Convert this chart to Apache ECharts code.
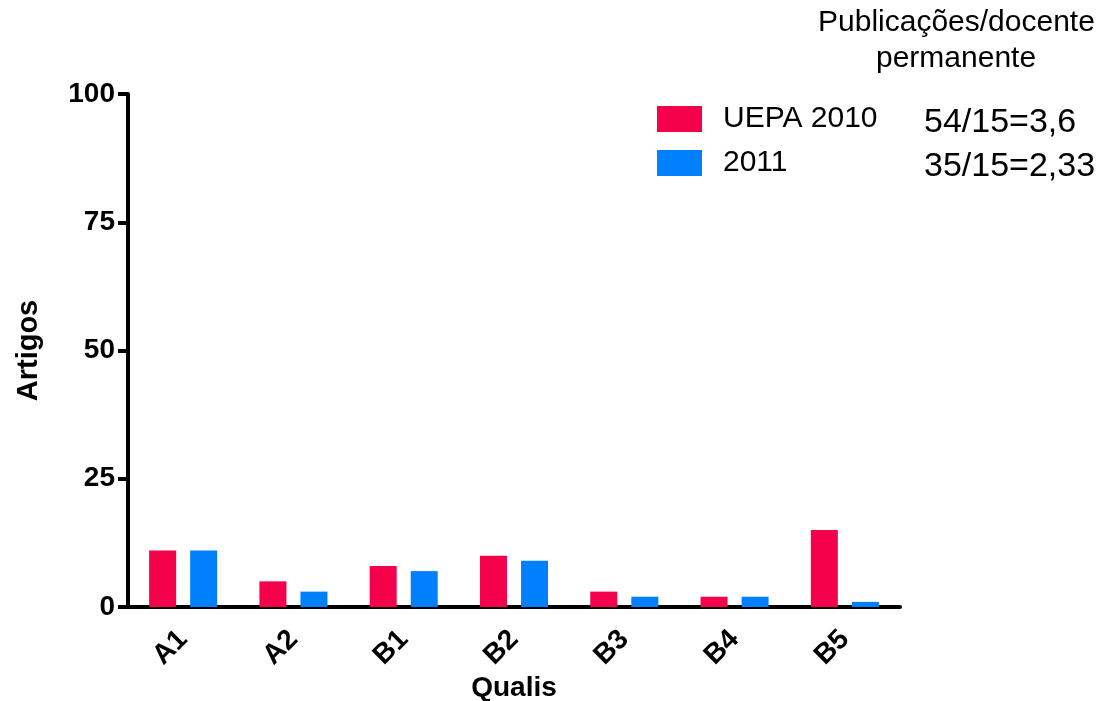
<!DOCTYPE html>
<html>
<head>
<meta charset="utf-8">
<script src="https://cdn.jsdelivr.net/npm/echarts@6/dist/echarts.min.js"></script>
<style>
  html, body { margin: 0; padding: 0; background: #fff; }
  #chart { width: 1113px; height: 701px; }
</style>
</head>
<body>
<div id="chart"></div>
<script>
// Qualis categories and article counts
const categories = ['A1', 'A2', 'B1', 'B2', 'B3', 'B4', 'B5'];
const uepa2010 = [11, 5, 8, 10, 3, 2, 15];
const uepa2011 = [11, 3, 7, 9, 2, 2, 1];
const yTicks = [0, 25, 50, 75, 100];
const ratioLines = ['54/15=3,6', '35/15=2,33'];

const FONT = 'Arial, "Liberation Sans", sans-serif';
const RED = '#F5004A';
const BLUE = '#0080FF';

const chart = echarts.init(document.getElementById('chart'));
chart.setOption({
  animation: false,
  textStyle: { fontFamily: FONT },
  grid: { left: 128, right: 213, top: 94, bottom: 94, outerBoundsMode: 'none' },
  legend: {
    orient: 'vertical',
    left: 652,
    top: 99,
    itemWidth: 45,
    itemHeight: 26,
    itemGap: 14,
    icon: 'rect',
    textStyle: { fontSize: 30, color: '#000', fontFamily: FONT, padding: [0, 0, 0, 16] },
    data: ['UEPA 2010', '2011']
  },
  xAxis: {
    type: 'category',
    data: categories,
    name: 'Qualis',
    nameLocation: 'middle',
    nameGap: 67,
    nameMoveOverlap: false,
    nameTextStyle: { fontSize: 28, fontWeight: 'bold', color: '#000', fontFamily: FONT },
    axisLine: { lineStyle: { color: '#000', width: 4 } },
    axisTick: { alignWithLabel: true, length: 10, lineStyle: { width: 4, color: '#000' } },
    axisLabel: { rotate: 45, fontSize: 28, fontWeight: 'bold', color: '#000', margin: 28, fontFamily: FONT }
  },
  yAxis: {
    type: 'value',
    min: yTicks[0],
    max: yTicks[yTicks.length - 1],
    interval: 25,
    name: 'Artigos',
    nameLocation: 'middle',
    nameGap: 85,
    nameMoveOverlap: false,
    nameTextStyle: { fontSize: 29, fontWeight: 'bold', color: '#000', fontFamily: FONT },
    axisLine: { show: true, lineStyle: { color: '#000', width: 4 } },
    axisTick: { show: true, length: 10, lineStyle: { width: 4, color: '#000' } },
    splitLine: { show: false },
    axisLabel: { fontSize: 28, fontWeight: 'bold', color: '#000', margin: 13, fontFamily: FONT }
  },
  series: [
    {
      name: 'UEPA 2010',
      type: 'bar',
      barWidth: 27,
      barGap: '52%',
      itemStyle: { color: RED },
      data: uepa2010
    },
    {
      name: '2011',
      type: 'bar',
      barWidth: 27,
      barGap: '52%',
      itemStyle: { color: BLUE },
      data: uepa2011
    }
  ],
  graphic: [
    {
      type: 'text', left: 818, top: 8,
      style: { text: 'Publicações/docente', font: '30px ' + FONT, fill: '#000' }
    },
    {
      type: 'text', left: 876, top: 44,
      style: { text: 'permanente', font: '30px ' + FONT, fill: '#000' }
    },
    {
      type: 'text', left: 924, top: 106,
      style: { text: ratioLines[0], font: '34px ' + FONT, fill: '#000' }
    },
    {
      type: 'text', left: 924, top: 150,
      style: { text: ratioLines[1], font: '34px ' + FONT, fill: '#000' }
    }
  ]
});
</script>
</body>
</html>
